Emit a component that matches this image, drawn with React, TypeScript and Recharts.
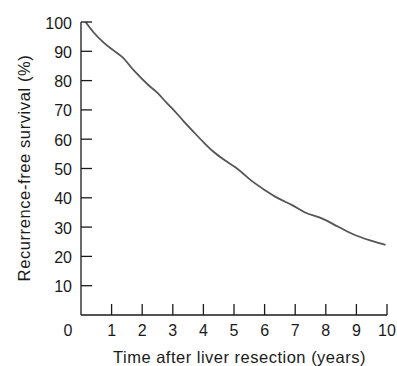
import React from 'react';
import { LineChart, Line, XAxis, YAxis, Label } from 'recharts';

const years = [0.15, 0.4, 0.77, 1.05, 1.35, 1.75, 2.2, 2.5, 2.8, 3.0, 3.35, 3.67, 4.0, 4.32, 4.7, 5.1, 5.6, 6.0, 6.45, 6.9, 7.32, 7.87, 8.41, 8.95, 9.5, 9.95];
const survival = [100, 96.6, 92.7, 90.4, 88.0, 83.2, 78.5, 75.8, 72.4, 70.3, 66.2, 62.6, 59.0, 55.8, 52.8, 50.0, 45.6, 42.7, 39.8, 37.5, 35.0, 33.0, 30.1, 27.3, 25.3, 23.9];
const xTicks = [0, 1, 2, 3, 4, 5, 6, 7, 8, 9, 10];
const yTicks = [10, 20, 30, 40, 50, 60, 70, 80, 90, 100];

const data = years.map((t, i) => ({ t, s: survival[i] }));

const FONT = '"Liberation Sans", Arial, Helvetica, sans-serif';
const INK = '#1a1a1a';

const XTick = (props: any) => {
  const { x, y, payload } = props;
  const v = payload.value;
  return (
    <g>
      {v !== 0 && <line x1={x} y1={y} x2={x} y2={y - 11} stroke={INK} strokeWidth={1.3} />}
      <text x={v === 0 ? x - 13 : x} y={y + 21} textAnchor="middle" fontSize={16} fontFamily={FONT} fill={INK}>
        {v}
      </text>
    </g>
  );
};

const YTick = (props: any) => {
  const { x, y, payload } = props;
  return (
    <g>
      <line x1={x} y1={y} x2={x + 11} y2={y} stroke={INK} strokeWidth={1.3} />
      <text x={x - 9} y={y + 6.5} textAnchor="end" fontSize={16} fontFamily={FONT} fill={INK}>
        {payload.value}
      </text>
    </g>
  );
};

export default function App() {
  return (
    <div style={{ position: 'absolute', left: 0, top: 0, background: '#fff' }}>
      <LineChart width={397} height={366} data={data} margin={{ top: 22, right: 10, bottom: 1, left: 21 }}>
        <XAxis
          dataKey="t"
          type="number"
          domain={[0, 10]}
          ticks={xTicks}
          interval={0}
          tickSize={0}
          tickMargin={0}
          tickLine={false}
          height={50}
          axisLine={{ stroke: INK, strokeWidth: 1.3 }}
          tick={<XTick />}
        >
          <Label
            content={() => (
              <text x={239.5} y={363} textAnchor="middle" fontSize={16.5} letterSpacing={0.5} fontFamily={FONT} fill={INK}>
                Time after liver resection (years)
              </text>
            )}
          />
        </XAxis>
        <YAxis
          type="number"
          domain={[0, 100]}
          ticks={yTicks}
          interval={0}
          width={60}
          tickSize={0}
          tickMargin={0}
          tickLine={false}
          axisLine={{ stroke: INK, strokeWidth: 1.3 }}
          tick={<YTick />}
        >
          <Label
            content={() => (
              <text
                x={29.5}
                y={168}
                transform="rotate(-90 29.5 168)"
                textAnchor="middle"
                fontSize={16.5}
                letterSpacing={0.6}
                fontFamily={FONT}
                fill={INK}
              >
                Recurrence-free survival (%)
              </text>
            )}
          />
        </YAxis>
        <Line
          dataKey="s"
          type="monotone"
          stroke="#555"
          strokeWidth={1.8}
          dot={false}
          isAnimationActive={false}
        />
      </LineChart>
    </div>
  );
}
